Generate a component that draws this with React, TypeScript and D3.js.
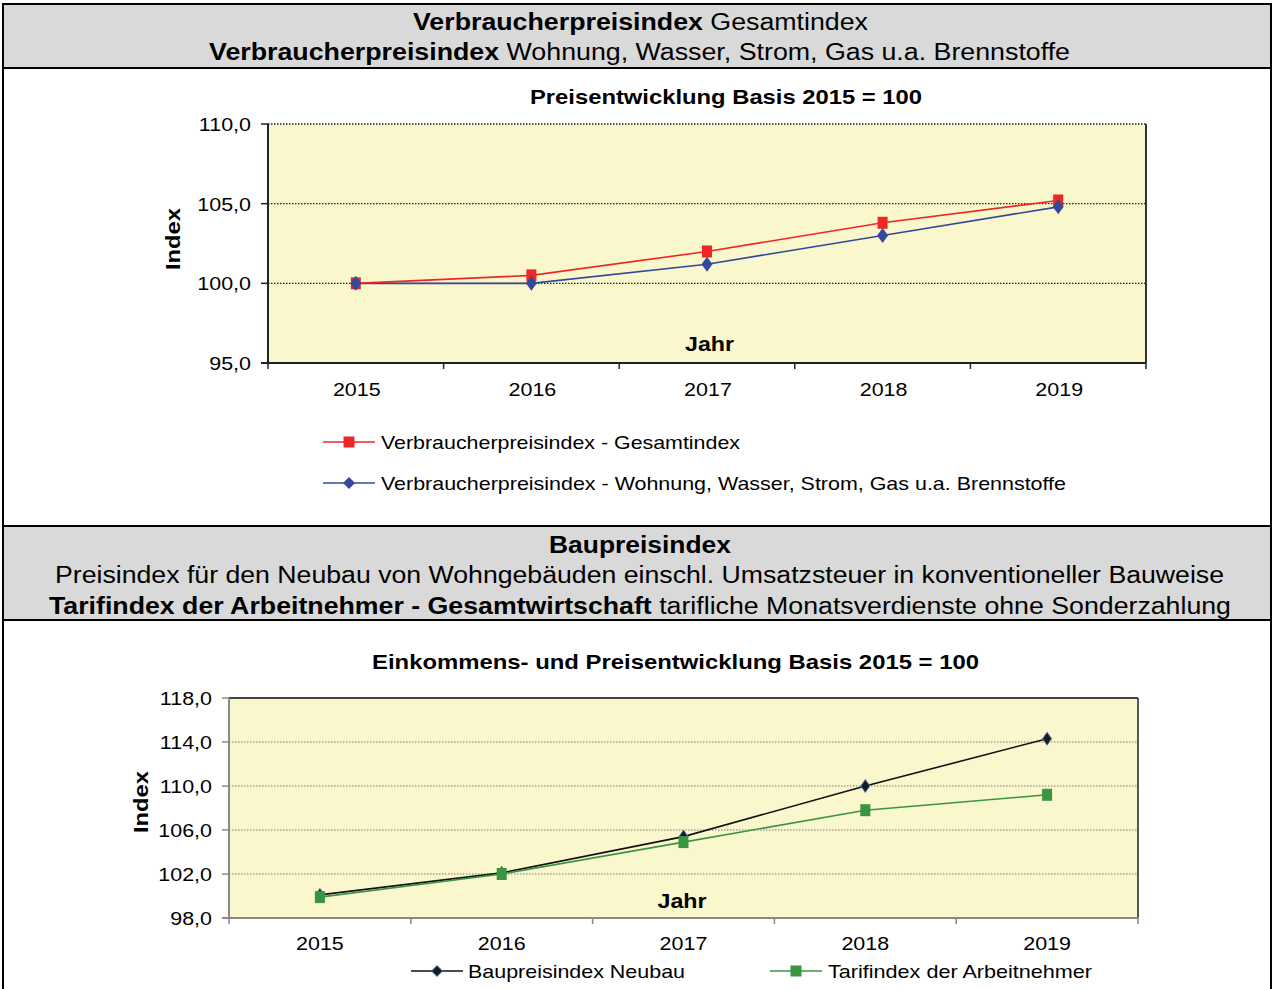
import React from "react";
import * as d3 from "d3";

const years = ["2015", "2016", "2017", "2018", "2019"];
const vpiGesamt = [100.0, 100.5, 102.0, 103.8, 105.2];
const vpiWohnung = [100.0, 100.0, 101.2, 103.0, 104.8];
const topTicks = [95, 100, 105, 110];

const baupreis = [100.1, 102.1, 105.4, 110.0, 114.3];
const tarif = [99.9, 102.0, 104.9, 107.8, 109.2];
const bottomTicks = [98, 102, 106, 110, 114, 118];

const FONT = "'Liberation Sans', Arial, sans-serif";
const fmt = (v: number) => v.toFixed(1).replace(".", ",");

function Square({ x, y, w, h, fill }: any) {
  return <rect x={x - w / 2} y={y - h / 2} width={w} height={h} fill={fill} />;
}
function Diamond({ x, y, w, h, fill, stroke }: any) {
  return (
    <path
      d={`M${x},${y - h / 2}L${x + w / 2},${y}L${x},${y + h / 2}L${x - w / 2},${y}Z`}
      fill={fill}
      stroke={stroke}
      strokeWidth={stroke ? 1 : 0}
    />
  );
}
function T({ x, y, w, anchor = "middle", children, ...rest }: any) {
  return (
    <text x={x} y={y} textLength={w} lengthAdjust="spacingAndGlyphs" textAnchor={anchor} {...rest}>
      {children}
    </text>
  );
}
function S({ x, y, sx = 1.13, anchor = "middle", children, ...rest }: any) {
  return (
    <g transform={`translate(${x},${y}) scale(${sx},1)`}>
      <text x={0} y={0} textAnchor={anchor} {...rest}>
        {children}
      </text>
    </g>
  );
}

export default function App() {
  // ---- top chart
  const t = { l: 268, r: 1146, t: 124, b: 363 };
  const xT = d3.scaleBand().domain(years).range([t.l, t.r]);
  const yT = d3.scaleLinear().domain([95, 110]).range([t.b, t.t]);
  const cxT = (i: number) => (xT(years[i]) as number) + xT.bandwidth() / 2;
  const lineT = d3.line<number>().x((_, i) => cxT(i)).y((d) => yT(d));

  // ---- bottom chart
  const b = { l: 229, r: 1138, t: 698, b: 918 };
  const xB = d3.scaleBand().domain(years).range([b.l, b.r]);
  const yB = d3.scaleLinear().domain([98, 118]).range([b.b, b.t]);
  const cxB = (i: number) => (xB(years[i]) as number) + xB.bandwidth() / 2;
  const lineB = d3.line<number>().x((_, i) => cxB(i)).y((d) => yB(d));

  const red = "#EE2624";
  const blue = "#34489C";
  const green = "#3A9543";
  const plotBg = "#FAF7CD";

  return (
    <div style={{ position: "absolute", left: 0, top: 0 }}>
      <svg width={1274} height={989} style={{ display: "block", fontFamily: FONT }}>
        <rect x={0} y={0} width={1274} height={989} fill="#fff" />
        <rect x={3} y={4} width={1268} height={63} fill="#D9D9D9" />
        <rect x={3} y={527} width={1268} height={93} fill="#D9D9D9" />
        <line x1={2} x2={1272} y1={4} y2={4} stroke="#000" strokeWidth={2} />
        <line x1={2} x2={1272} y1={68} y2={68} stroke="#000" strokeWidth={2} />
        <line x1={2} x2={1272} y1={526} y2={526} stroke="#000" strokeWidth={2} />
        <line x1={2} x2={1272} y1={620} y2={620} stroke="#000" strokeWidth={2} />
        <line x1={3} x2={3} y1={3} y2={989} stroke="#000" strokeWidth={2} />
        <line x1={1271} x2={1271} y1={3} y2={989} stroke="#000" strokeWidth={2} />

        <g fontSize={23} fill="#000">
          <T x={640.5} y={30} w={455}>
            <tspan fontWeight="bold">Verbraucherpreisindex</tspan> Gesamtindex
          </T>
          <T x={639.5} y={60} w={861}>
            <tspan fontWeight="bold">Verbraucherpreisindex</tspan> Wohnung, Wasser, Strom, Gas u.a. Brennstoffe
          </T>
          <T x={640} y={553} w={182} fontWeight="bold">Baupreisindex</T>
          <T x={639.5} y={583} w={1169}>
            Preisindex für den Neubau von Wohngebäuden einschl. Umsatzsteuer in konventioneller Bauweise
          </T>
          <T x={640} y={614} w={1182}>
            <tspan fontWeight="bold">Tarifindex der Arbeitnehmer - Gesamtwirtschaft</tspan> tarifliche Monatsverdienste ohne Sonderzahlung
          </T>
        </g>

        {/* ===== top chart ===== */}
        <rect x={t.l} y={t.t} width={t.r - t.l} height={t.b - t.t} fill={plotBg} />
        {topTicks.slice(1).map((v) => (
          <line key={v} x1={t.l} x2={t.r} y1={yT(v)} y2={yT(v)} stroke="#222" strokeWidth={1.3} strokeDasharray="1.5,1.5" />
        ))}
        <line x1={t.r} x2={t.r} y1={t.t} y2={t.b} stroke="#333" strokeWidth={2} />
        <line x1={t.l} x2={t.l} y1={t.t} y2={t.b} stroke="#222" strokeWidth={2} />
        <line x1={t.l - 7} x2={t.r} y1={t.b} y2={t.b} stroke="#222" strokeWidth={2} />
        {topTicks.map((v) => (
          <g key={v}>
            <line x1={t.l - 7} x2={t.l} y1={yT(v)} y2={yT(v)} stroke="#222" strokeWidth={1.5} />
            <S x={t.l - 17} y={yT(v) + 7} fontSize={19} anchor="end">{fmt(v)}</S>
          </g>
        ))}
        {[...years.map((y) => xT(y) as number), t.r].map((x, i) => (
          <line key={i} x1={x} x2={x} y1={t.b} y2={t.b + 6} stroke="#222" strokeWidth={1.5} />
        ))}
        {years.map((y, i) => (
          <S key={y} x={cxT(i) + 1} y={t.b + 33} fontSize={19}>{y}</S>
        ))}
        <T x={726} y={104} w={392} fontSize={21} fontWeight="bold">Preisentwicklung  Basis 2015 = 100</T>
        <T x={709.5} y={351} w={49} fontSize={21} fontWeight="bold">Jahr</T>
        <g transform="translate(180,239) rotate(-90)">
          <T x={0} y={0} w={62} fontSize={21} fontWeight="bold">Index</T>
        </g>

        <path d={lineT(vpiWohnung) as string} fill="none" stroke={blue} strokeWidth={1.6} />
        <path d={lineT(vpiGesamt) as string} fill="none" stroke={red} strokeWidth={1.6} />
        {vpiGesamt.map((v, i) => (
          <Square key={i} x={cxT(i)} y={yT(v)} w={10} h={12} fill={red} />
        ))}
        {vpiWohnung.map((v, i) => (
          <Diamond key={i} x={cxT(i)} y={yT(v)} w={11} h={15} fill={blue} />
        ))}

        {/* legend top */}
        <g fontSize={19}>
          <line x1={323} x2={375} y1={442} y2={442} stroke={red} strokeWidth={1.6} />
          <Square x={349} y={442} w={11} h={11} fill={red} />
          <T x={381} y={449} w={359} anchor="start">Verbraucherpreisindex - Gesamtindex</T>
          <line x1={323} x2={375} y1={483} y2={483} stroke={blue} strokeWidth={1.6} />
          <Diamond x={349} y={483} w={12} h={12} fill={blue} />
          <T x={381} y={490} w={685} anchor="start">Verbraucherpreisindex - Wohnung, Wasser, Strom, Gas u.a. Brennstoffe</T>
        </g>

        {/* ===== bottom chart ===== */}
        <rect x={b.l} y={b.t} width={b.r - b.l} height={b.b - b.t} fill={plotBg} />
        {bottomTicks.slice(1, -1).map((v) => (
          <line key={v} x1={b.l} x2={b.r} y1={yB(v)} y2={yB(v)} stroke="#777" strokeWidth={1.2} strokeDasharray="1.5,1.5" />
        ))}
        <line x1={b.l} x2={b.r} y1={b.t} y2={b.t} stroke="#444" strokeWidth={1.8} />
        <line x1={b.r} x2={b.r} y1={b.t} y2={b.b} stroke="#444" strokeWidth={1.8} />
        <line x1={b.l} x2={b.l} y1={b.t} y2={b.b} stroke="#888" strokeWidth={2} />
        <line x1={b.l - 7} x2={b.r} y1={b.b} y2={b.b} stroke="#888" strokeWidth={2} />
        {bottomTicks.map((v) => (
          <g key={v}>
            <line x1={b.l - 7} x2={b.l} y1={yB(v)} y2={yB(v)} stroke="#888" strokeWidth={1.5} />
            <S x={b.l - 17} y={yB(v) + 7} fontSize={19} anchor="end">{fmt(v)}</S>
          </g>
        ))}
        {[...years.map((y) => xB(y) as number), b.r].map((x, i) => (
          <line key={i} x1={x} x2={x} y1={b.b} y2={b.b + 6} stroke="#888" strokeWidth={1.5} />
        ))}
        {years.map((y, i) => (
          <S key={y} x={cxB(i)} y={b.b + 32} fontSize={19}>{y}</S>
        ))}
        <T x={675.5} y={669} w={607} fontSize={21} fontWeight="bold">Einkommens-  und Preisentwicklung  Basis 2015 = 100</T>
        <T x={682} y={908} w={49} fontSize={21} fontWeight="bold">Jahr</T>
        <g transform="translate(148,802) rotate(-90)">
          <T x={0} y={0} w={62} fontSize={21} fontWeight="bold">Index</T>
        </g>

        <path d={lineB(baupreis) as string} fill="none" stroke="#111" strokeWidth={1.6} />
        <path d={lineB(tarif) as string} fill="none" stroke={green} strokeWidth={1.6} />
        {baupreis.map((v, i) => (
          <Diamond key={i} x={cxB(i)} y={yB(v)} w={9} h={13} fill="#1a1a1a" stroke="#4a78c0" />
        ))}
        {tarif.map((v, i) => (
          <Square key={i} x={cxB(i)} y={yB(v)} w={10} h={12} fill={green} />
        ))}

        {/* legend bottom */}
        <g fontSize={19}>
          <line x1={411} x2={463} y1={971} y2={971} stroke="#111" strokeWidth={1.6} />
          <Diamond x={437} y={971} w={11} h={11} fill="#1a1a1a" stroke="#4a78c0" />
          <T x={468} y={978} w={217} anchor="start">Baupreisindex Neubau</T>
          <line x1={770} x2={822} y1={971} y2={971} stroke={green} strokeWidth={1.6} />
          <Square x={796} y={971} w={11} h={11} fill={green} />
          <T x={828} y={978} w={264} anchor="start">Tarifindex der Arbeitnehmer</T>
        </g>
      </svg>
    </div>
  );
}
